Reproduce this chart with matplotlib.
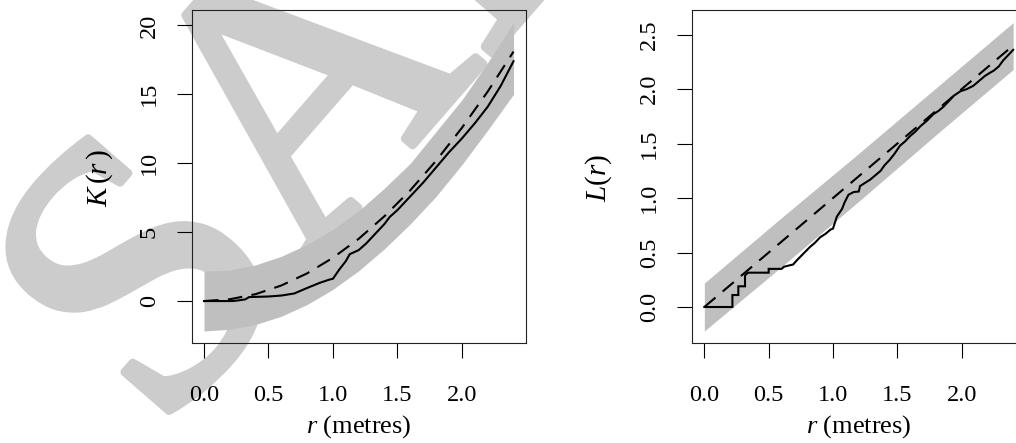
import matplotlib
matplotlib.use("Agg")
import matplotlib.pyplot as plt
import matplotlib.patheffects as pe

plt.rcParams["font.family"] = ["Liberation Serif", "DejaVu Serif"]
plt.rcParams["mathtext.fontset"] = "custom"
plt.rcParams["mathtext.rm"] = "Liberation Serif"
plt.rcParams["mathtext.it"] = "Liberation Serif:italic"

# ---- K function panel -------------------------------------------------
k_r = [0, 0.22, 0.26, 0.32, 0.35, 0.5, 0.6, 0.7, 0.8, 0.9, 0.97, 1.0, 1.05,
       1.1, 1.13, 1.2, 1.26, 1.3, 1.4, 1.44, 1.5, 1.6, 1.7, 1.8, 1.9, 2.0,
       2.1, 2.2, 2.3, 2.4]
k_obs = [0, 0, 0.04, 0.12, 0.29, 0.33, 0.40, 0.55, 0.95, 1.33, 1.55, 1.62,
         2.3, 2.9, 3.4, 3.7, 4.2, 4.6, 5.6, 6.1, 6.6, 7.6, 8.6, 9.7, 10.8,
         11.8, 12.9, 14.1, 15.6, 17.4]

env_r = [0, 0.2, 0.4, 0.6, 0.8, 1.0, 1.2, 1.4, 1.6, 1.8, 2.0, 2.2, 2.4]
k_theo = [0, 0.13, 0.5, 1.13, 2.01, 3.14, 4.52, 6.16, 8.04, 10.18, 12.57,
          15.2, 18.1]
k_hi = [2.17, 2.25, 2.62, 3.25, 4.1, 5.2, 6.55, 8.2, 10.0, 12.3, 14.6,
        17.3, 20.2]
k_lo = [-2.17, -2.05, -1.7, -1.1, -0.25, 0.85, 2.2, 3.8, 5.6, 7.6, 9.9,
        12.4, 15.0]

# ---- L function panel -------------------------------------------------
l_r = [0, 0.218, 0.218, 0.264, 0.264, 0.316, 0.316, 0.34, 0.50, 0.50, 0.60,
       0.62, 0.69, 0.72, 0.77, 0.82, 0.86, 0.90, 0.94, 0.98, 1.00, 1.03,
       1.07, 1.09, 1.12, 1.16, 1.20, 1.21, 1.25, 1.29, 1.33, 1.37, 1.40,
       1.44, 1.48, 1.52, 1.56, 1.60, 1.64, 1.68, 1.73, 1.78, 1.82, 1.86,
       1.90, 1.94, 1.99, 2.04, 2.09, 2.14, 2.18, 2.22, 2.25, 2.29, 2.32,
       2.36, 2.40]
l_obs = [0, 0, 0.11, 0.11, 0.19, 0.19, 0.29, 0.315, 0.315, 0.35, 0.35, 0.37,
         0.39, 0.43, 0.49, 0.55, 0.59, 0.64, 0.67, 0.71, 0.72, 0.83, 0.90,
         0.96, 1.03, 1.055, 1.06, 1.11, 1.14, 1.17, 1.21, 1.25, 1.30, 1.35,
         1.41, 1.48, 1.52, 1.57, 1.61, 1.66, 1.71, 1.77, 1.80, 1.84, 1.89,
         1.94, 1.98, 2.00, 2.03, 2.08, 2.12, 2.15, 2.17, 2.21, 2.26, 2.31,
         2.36]

lenv_r = [0, 0.6, 1.2, 1.8, 2.4]
l_theo = [0, 0.6, 1.2, 1.8, 2.4]
l_hi = [0.22, 0.82, 1.41, 2.01, 2.61]
l_lo = [-0.22, 0.37, 0.97, 1.58, 2.18]

x_ticks = [0.0, 0.5, 1.0, 1.5, 2.0]
x_ticklabels = ["0.0", "0.5", "1.0", "1.5", "2.0"]
k_ticks = [0, 5, 10, 15, 20]
l_ticks = [0.0, 0.5, 1.0, 1.5, 2.0, 2.5]
l_ticklabels = ["0.0", "0.5", "1.0", "1.5", "2.0", "2.5"]

W, H = 1016, 443
fig = plt.figure(figsize=(W / 100, H / 100), dpi=100)
fig.patch.set_facecolor("white")

# watermark behind both panels
WM = "#cccccc"
fig.text(159 / W, 1 - 437 / H, "SAMPLE", rotation=49, rotation_mode="anchor",
         ha="left", va="baseline", fontsize=280, color=WM,
         family="Liberation Serif", zorder=-5,
         path_effects=[pe.withStroke(linewidth=6, foreground=WM)])

BAND = "#bfbfbf"
TS = 17.5


def r_limits(vals):
    lo, hi = min(vals), max(vals)
    pad = 0.04 * (hi - lo)
    return lo - pad, hi + pad


def panel(rect, r_env, theo, hi, lo, r_obs, obs, yticks, yticklabels):
    ax = fig.add_axes(rect)
    ax.patch.set_alpha(0)
    ax.fill_between(r_env, lo, hi, color=BAND, lw=0, zorder=1)
    ax.plot(r_obs, obs, color="black", lw=1.5, zorder=3,
            solid_joinstyle="miter")
    ax.plot(r_env, theo, color="black", lw=1.5, dashes=(7, 4.5), zorder=3)
    ax.set_xlim(*r_limits(r_env))
    ax.set_ylim(*r_limits(list(hi) + list(lo)))
    ax.set_xticks(x_ticks)
    ax.set_xticklabels(x_ticklabels)
    ax.set_yticks(yticks)
    ax.set_yticklabels(yticklabels, rotation=90, va="center")
    ax.tick_params(direction="out", length=11, width=0.8, labelsize=TS,
                   color="black")
    ax.tick_params(axis="x", pad=19)
    ax.tick_params(axis="y", pad=12)
    for s in ax.spines.values():
        s.set_linewidth(0.8)
        s.set_color("#222222")
    return ax


axl = panel([191.6 / W, 99.7 / H, 334.3 / W, 333 / H], env_r, k_theo, k_hi,
            k_lo, k_r, k_obs, k_ticks, [str(t) for t in k_ticks])
axr = panel([692 / W, 99.7 / H, 333.5 / W, 333 / H], lenv_r, l_theo, l_hi,
            l_lo, l_r, l_obs, l_ticks, l_ticklabels)

fig.text(358.8 / W, 1 - 427 / H, r"$r$ (metres)", ha="center", va="center",
         fontsize=19)
fig.text(858.8 / W, 1 - 427 / H, r"$r$ (metres)", ha="center", va="center",
         fontsize=19)
fig.text(100 / W, 1 - 178 / H, r"$K\,(r\,)$", ha="center", va="center",
         rotation=90, fontsize=21)
fig.text(599 / W, 1 - 178 / H, r"$L(r)$", ha="center", va="center",
         rotation=90, fontsize=21)

fig.savefig("out.png", dpi=100)
